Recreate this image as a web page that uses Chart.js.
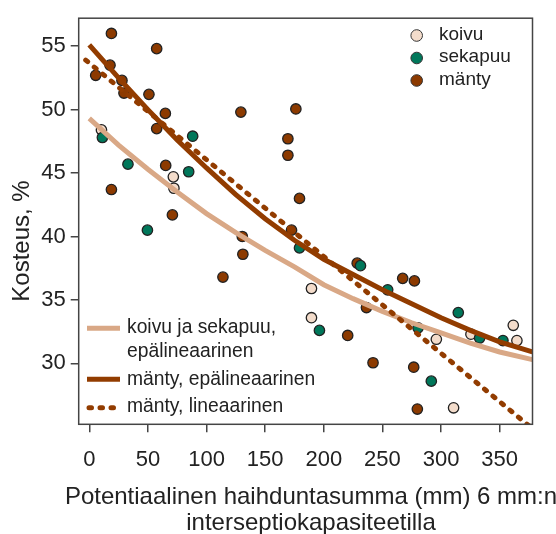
<!DOCTYPE html>
<html>
<head>
<meta charset="utf-8">
<script src="https://cdn.jsdelivr.net/npm/chart.js@4.4.0/dist/chart.umd.min.js"></script>
<style>
  html, body { margin: 0; padding: 0; background: #fff; }
  canvas { display: block; }
</style>
</head>
<body>
<canvas id="moistureChart" width="556" height="534"></canvas>
<script>
// measured plots: potential evaporation sum (mm) vs. moisture (%)
const koivuX = [10.4, 71.7, 72.2, 189.5, 189.5, 296, 325.5, 361.6, 364.7, 310.7];
const koivuY = [48.4, 44.7, 43.8, 35.9, 33.6, 31.9, 32.3, 33.0, 31.8, 26.5];

const sekapuuX = [11.2, 33, 49.6, 88.2, 84.8, 179.3, 196.3, 231.3, 254.5, 280.4, 291.7, 314.7, 332.9, 352.8];
const sekapuuY = [47.8, 45.7, 40.5, 47.9, 45.1, 39.1, 32.6, 37.7, 35.8, 32.8, 28.6, 34.0, 32.0, 31.8];

const mantyX = [18.9, 5.5, 17.7, 27.9, 29.6, 50.9, 57.5, 57.5, 64.9, 65.2, 18.9, 70.9, 129.3, 176.2, 169.4,
                169.4, 179.3, 172.5, 130.5, 131, 114, 228.5, 267.3, 277.3, 236.4, 220.4, 242, 276.7, 279.8];
const mantyY = [56.0, 52.7, 53.5, 52.3, 51.3, 51.2, 54.8, 48.5, 49.7, 45.6, 43.7, 41.7, 49.8, 50.05, 47.7,
                46.4, 43.0, 40.5, 40.0, 38.6, 36.8, 37.9, 36.7, 36.5, 34.4, 32.2, 30.05, 29.7, 26.4];

// fitted curves
const curveX = [0, 25, 50, 75, 100, 125, 150, 175, 200, 225, 250, 275, 300, 325, 350, 378];
const koivuSekapuuFit = [49.3, 47.2, 45.3, 43.5, 41.8, 40.3, 38.9, 37.6, 36.2, 35.1, 34.1, 33.2, 32.4, 31.6, 30.9, 30.3];
const mantyFit = [55.1, 52.5, 50.0, 47.6, 45.4, 43.3, 41.4, 39.7, 38.2, 37.0, 35.8, 34.7, 33.6, 32.6, 31.7, 30.9];
const mantyLinX = [-3, 378];
const mantyLinY = [53.9, 24.85];

const xTicks = [0, 50, 100, 150, 200, 250, 300, 350];
const yTicks = [30, 35, 40, 45, 50, 55];

const BROWN = '#8c3a00';
const BROWN_LINE = '#923c00';
const GREEN = '#00775a';
const BEIGE = '#f3dccb';
const BEIGE_LINE = '#d9a886';
const FONT = 'Liberation Sans, Arial, sans-serif';
const DOTS = [2.5, 8.5];

const pairs = (xs, ys) => xs.map((x, i) => ({ x: x, y: ys[i] }));

const pointSet = (label, xs, ys, color, order) => ({
    type: 'scatter',
    label: label,
    data: pairs(xs, ys),
    backgroundColor: color,
    borderColor: '#222',
    borderWidth: 1.3,
    pointRadius: 5.2,
    order: order
});

const lineSet = (label, xs, ys, color, dash, order) => ({
    type: 'line',
    label: label,
    data: pairs(xs, ys),
    borderColor: color,
    borderWidth: 5,
    borderDash: dash,
    borderCapStyle: dash.length ? 'round' : 'butt',
    pointRadius: 0,
    tension: 0,
    fill: false,
    order: order
});

// legends and axis titles drawn straight on the canvas
const decorations = {
    id: 'decorations',
    afterDraw(chart) {
        const ctx = chart.ctx;
        const a = chart.chartArea;
        ctx.save();

        ctx.strokeStyle = '#444';
        ctx.lineWidth = 1.5;
        ctx.strokeRect(a.left, a.top, a.right - a.left, a.bottom - a.top);

        ctx.fillStyle = '#222';
        ctx.textBaseline = 'middle';

        // axis titles
        ctx.font = '24px ' + FONT;
        ctx.textAlign = 'center';
        ctx.fillText('Potentiaalinen haihduntasumma (mm) 6 mm:n', 311, 497);
        ctx.fillText('interseptiokapasiteetilla', 311, 523);
        ctx.save();
        ctx.translate(22, 241);
        ctx.rotate(-Math.PI / 2);
        ctx.fillText('Kosteus, %', 0, 0);
        ctx.restore();

        // species legend, top right
        ctx.font = '19px ' + FONT;
        ctx.textAlign = 'left';
        [['koivu', BEIGE, 35.5], ['sekapuu', GREEN, 58], ['mänty', BROWN, 80.5]].forEach(([txt, col, y]) => {
            ctx.beginPath();
            ctx.arc(416.7, y, 5.8, 0, Math.PI * 2);
            ctx.fillStyle = col;
            ctx.fill();
            ctx.lineWidth = 1;
            ctx.strokeStyle = '#333';
            ctx.stroke();
            ctx.fillStyle = '#222';
            ctx.fillText(txt, 439, y - 1);
        });

        // fit legend, bottom left
        const sample = (y, col, dash) => {
            ctx.beginPath();
            ctx.setLineDash(dash);
            ctx.lineCap = dash.length ? 'round' : 'butt';
            ctx.strokeStyle = col;
            ctx.lineWidth = 5;
            ctx.moveTo(dash.length ? 89 : 87, y);
            ctx.lineTo(120, y);
            ctx.stroke();
            ctx.setLineDash([]);
        };
        sample(328.3, BEIGE_LINE, []);
        sample(379.3, BROWN_LINE, []);
        sample(407.7, BROWN_LINE, DOTS);
        ctx.font = '19.3px ' + FONT;
        ctx.fillStyle = '#222';
        ctx.fillText('koivu ja sekapuu,', 127, 328);
        ctx.fillText('epälineaarinen', 127, 352);
        ctx.fillText('mänty, epälineaarinen', 127, 379.5);
        ctx.fillText('mänty, lineaarinen', 127, 406.5);

        ctx.restore();
    }
};

new Chart(document.getElementById('moistureChart'), {
    data: {
        datasets: [
            lineSet('mänty, lineaarinen', mantyLinX, mantyLinY, BROWN_LINE, DOTS, 0),
            lineSet('mänty, epälineaarinen', curveX, mantyFit, BROWN_LINE, [], 1),
            lineSet('koivu ja sekapuu, epälineaarinen', curveX, koivuSekapuuFit, BEIGE_LINE, [], 2),
            pointSet('sekapuu', sekapuuX, sekapuuY, GREEN, 3),
            pointSet('koivu', koivuX, koivuY, BEIGE, 4),
            pointSet('mänty', mantyX, mantyY, BROWN, 5)
        ]
    },
    options: {
        responsive: false,
        animation: false,
        devicePixelRatio: 1,
        layout: { padding: { top: 16.7, right: 23.5, left: 0, bottom: 0 } },
        plugins: {
            legend: { display: false },
            tooltip: { enabled: false }
        },
        scales: {
            x: {
                type: 'linear',
                min: -9,
                max: 378,
                afterBuildTicks: (scale) => { scale.ticks = xTicks.map(v => ({ value: v })); },
                afterFit: (scale) => { scale.height = 109.7; },
                grid: { drawOnChartArea: false, drawTicks: true, tickLength: 8, color: '#444', lineWidth: 1.5 },
                border: { display: false },
                ticks: { font: { family: FONT, size: 22 }, color: '#222', padding: 14, maxRotation: 0 }
            },
            y: {
                type: 'linear',
                min: 25.2,
                max: 57.2,
                afterBuildTicks: (scale) => { scale.ticks = yTicks.map(v => ({ value: v })); },
                afterFit: (scale) => { scale.width = 78.7; },
                grid: { drawOnChartArea: false, drawTicks: true, tickLength: 8, color: '#444', lineWidth: 1.5 },
                border: { display: false },
                ticks: { font: { family: FONT, size: 22 }, color: '#222', padding: 5 }
            }
        }
    },
    plugins: [decorations]
});
</script>
</body>
</html>
